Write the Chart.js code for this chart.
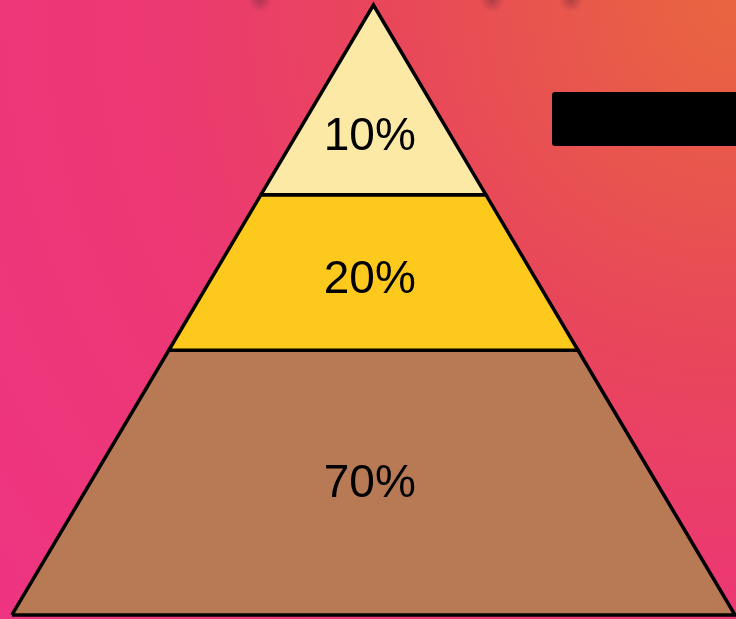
<!DOCTYPE html>
<html lang="en">
<head>
    <meta charset="UTF-8">
    <title>Pyramid</title>
    <script src="https://cdn.jsdelivr.net/npm/chart.js"></script>
    <style>
        html, body { margin: 0; padding: 0; }
        #wrap {
            width: 736px;
            height: 619px;
            background: radial-gradient(circle farthest-corner at 100% 0%, #e9663f 0%, #e8475a 36%, #ec3873 62%, #ee3482 100%);
        }
    </style>
</head>
<body>
    <div id="wrap">
        <canvas id="pyramid" width="736" height="619"></canvas>
    </div>

    <script>
        // layers from top to bottom
        const layerLabels = ['10%', '20%', '70%'];
        // boundary heights (0 = base, 100 = apex), top to bottom
        const layerTops = [100, 68.9, 43.4];
        const layerBottoms = [68.9, 43.4, 0];
        // where the label sits inside each layer
        const labelLevels = [78.3, 54.9, 21.4];
        const labelX = [-0.01, -0.01, -0.01];

        const layerColors = ['#fce9a6', '#fec91d', '#b87a55'];

        // half width of the pyramid at a given height
        function halfWidth(h) {
            return (100 - h) / 100;
        }

        function layerShape(lo, hi) {
            const pts = [
                { x: -halfWidth(lo), y: lo },
                { x: halfWidth(lo), y: lo },
                { x: halfWidth(hi), y: hi }
            ];
            if (halfWidth(hi) > 0) pts.push({ x: -halfWidth(hi), y: hi });
            pts.push({ x: -halfWidth(lo), y: lo });
            return pts;
        }

        const datasets = layerLabels.map((lbl, i) => ({
            label: lbl,
            data: layerShape(layerBottoms[i], layerTops[i]),
            showLine: true,
            fill: 'shape',
            backgroundColor: layerColors[i],
            borderColor: '#000',
            borderWidth: 3.5,
            borderJoinStyle: 'miter',
            pointRadius: 0,
            tension: 0
        }));

        const decoPlugin = {
            id: 'deco',
            beforeDraw(chart) {
                const ctx = chart.ctx;
                // faint dots along the top edge
                [260, 492, 571].forEach(cx => {
                    const g = ctx.createRadialGradient(cx, 0, 0, cx, 0, 12);
                    g.addColorStop(0, 'rgba(110,40,60,0.45)');
                    g.addColorStop(1, 'rgba(110,40,60,0)');
                    ctx.fillStyle = g;
                    ctx.beginPath();
                    ctx.arc(cx, 0, 12, 0, Math.PI * 2);
                    ctx.fill();
                });
            },
            afterDraw(chart) {
                const ctx = chart.ctx;
                const xs = chart.scales.x, ys = chart.scales.y;
                ctx.save();
                ctx.fillStyle = '#000';
                ctx.font = '46px "Liberation Sans", Arial, sans-serif';
                ctx.textAlign = 'center';
                ctx.textBaseline = 'middle';
                layerLabels.forEach((lbl, i) => {
                    ctx.fillText(lbl, xs.getPixelForValue(labelX[i]), ys.getPixelForValue(labelLevels[i]));
                });
                // black box top right
                ctx.beginPath();
                if (ctx.roundRect) ctx.roundRect(552, 92, 200, 54, 3);
                else ctx.rect(552, 92, 200, 54);
                ctx.fill();
                ctx.restore();
            }
        };

        new Chart(document.getElementById('pyramid'), {
            type: 'scatter',
            data: { datasets: datasets },
            options: {
                responsive: false,
                animation: false,
                layout: { padding: 0 },
                plugins: {
                    legend: { display: false },
                    tooltip: { enabled: false }
                },
                scales: {
                    x: { type: 'linear', min: -1.033, max: 1.003, display: false },
                    y: { type: 'linear', min: -0.66, max: 100.82, display: false }
                }
            },
            plugins: [decoPlugin]
        });
    </script>
</body>
</html>
